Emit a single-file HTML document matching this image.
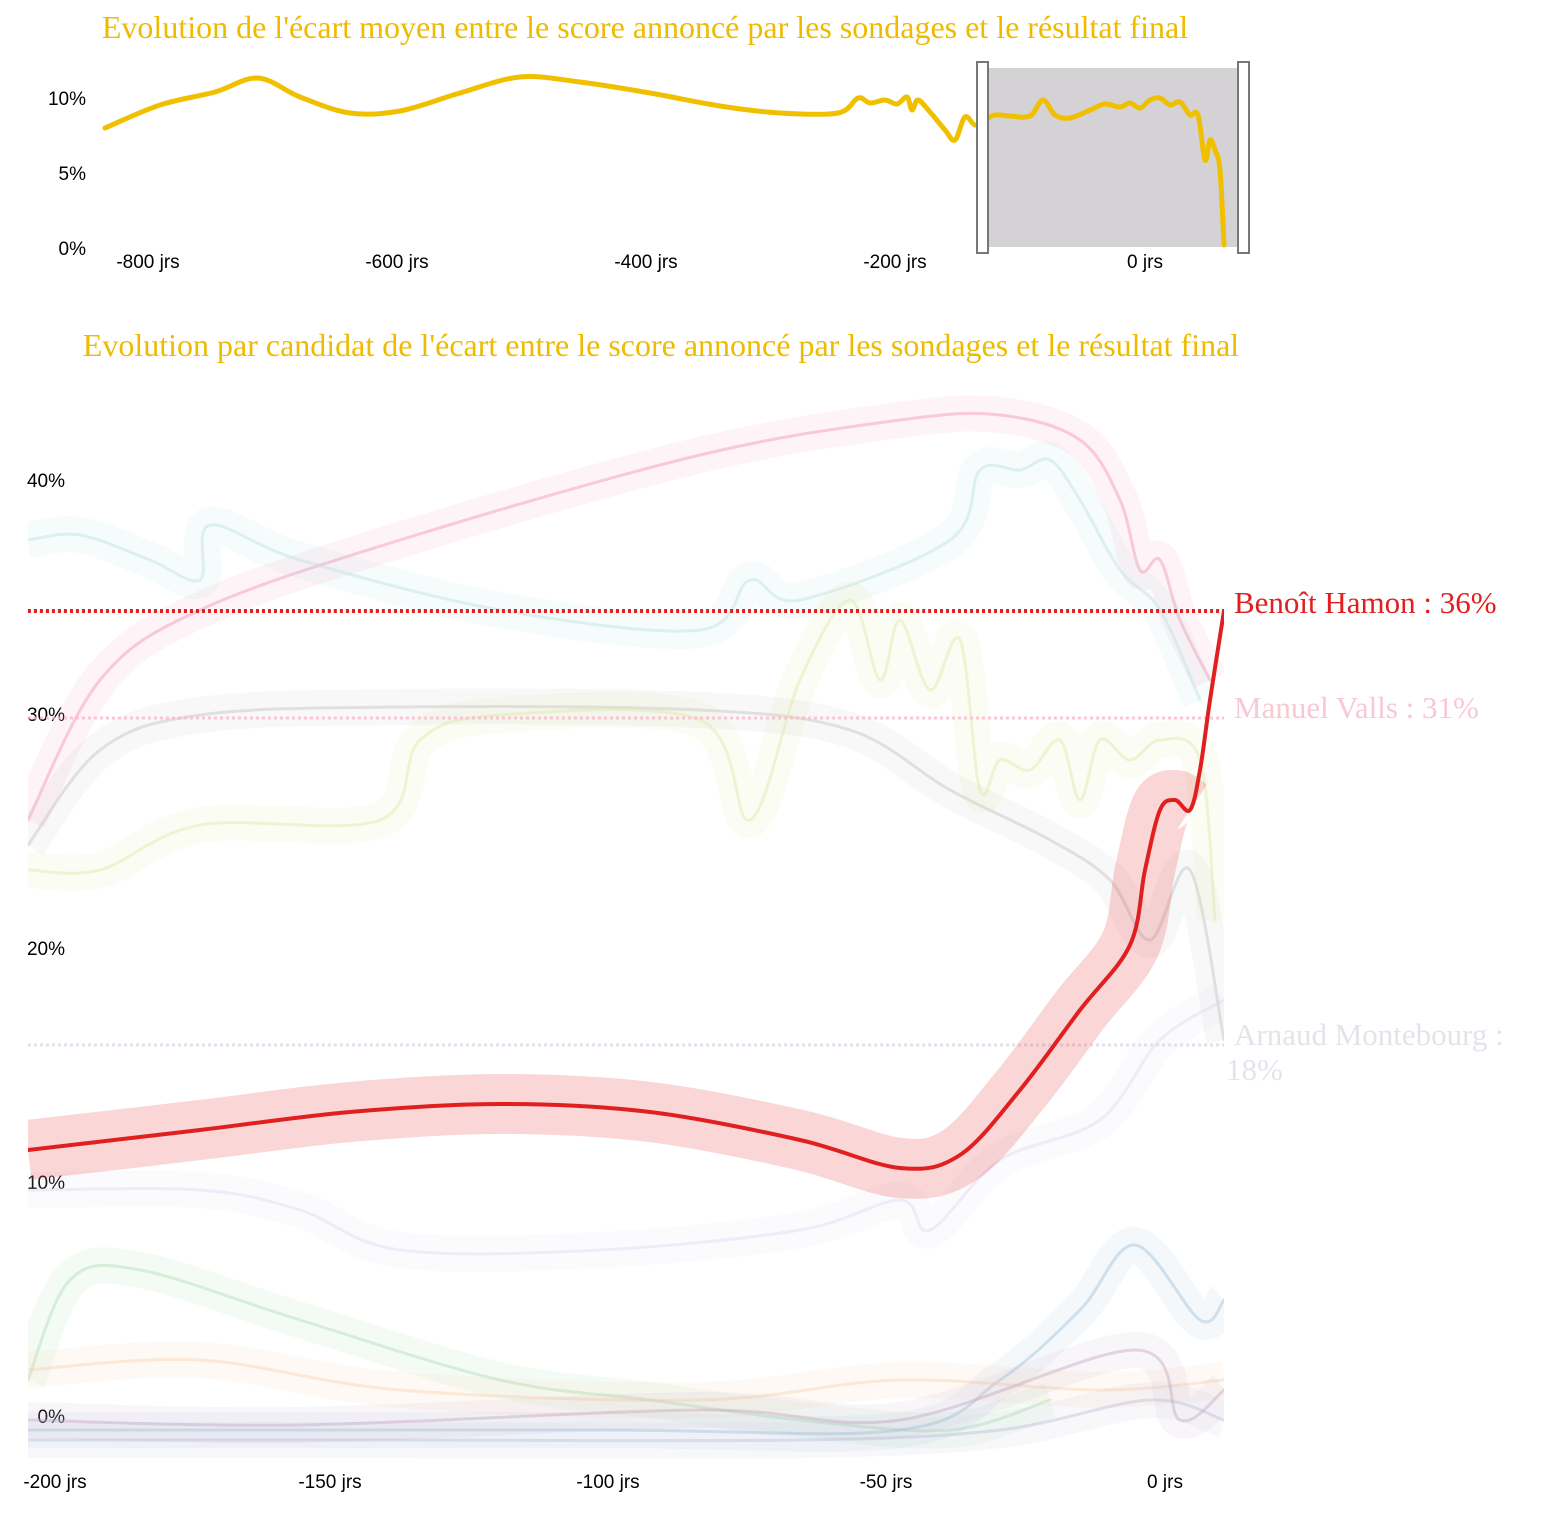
<!DOCTYPE html>
<html><head><meta charset="utf-8"><style>
html,body{margin:0;padding:0;background:#fff;width:1544px;height:1516px;overflow:hidden}
svg{display:block}
.t{font-family:"Liberation Serif",serif;font-size:32px;fill:#eebb00}
.a{font-family:"Liberation Sans",sans-serif;font-size:19px;fill:#000}
</style></head><body>
<svg id="s" width="1544" height="1516" viewBox="0 0 1544 1516">
<defs><clipPath id="c"><rect x="28" y="380" width="1196" height="1080"/></clipPath></defs>
<text class="t" x="645" y="38" text-anchor="middle">Evolution de l'écart moyen entre le score annoncé par les sondages et le résultat final</text>
<text class="a" x="86" y="105" text-anchor="end">10%</text>
<text class="a" x="86" y="180" text-anchor="end">5%</text>
<text class="a" x="86" y="255" text-anchor="end">0%</text>
<text class="a" x="148" y="268" text-anchor="middle">-800 jrs</text>
<text class="a" x="397" y="268" text-anchor="middle">-600 jrs</text>
<text class="a" x="646" y="268" text-anchor="middle">-400 jrs</text>
<text class="a" x="895" y="268" text-anchor="middle">-200 jrs</text>
<text class="a" x="1145" y="268" text-anchor="middle">0 jrs</text>
<rect x="983" y="68" width="257" height="179" fill="#d4d2d4"/>
<g id="top"></g>
<rect x="977" y="62" width="11" height="191" fill="#fff" stroke="#777" stroke-width="2"/>
<rect x="1238" y="62" width="11" height="191" fill="#fff" stroke="#777" stroke-width="2"/>

<text class="t" x="661" y="356" text-anchor="middle">Evolution par candidat de l'écart entre le score annoncé par les sondages et le résultat final</text>
<text class="a" x="65" y="487" text-anchor="end">40%</text>
<text class="a" x="65" y="721" text-anchor="end">30%</text>
<text class="a" x="65" y="955" text-anchor="end">20%</text>
<text class="a" x="65" y="1189" text-anchor="end">10%</text>
<text class="a" x="65" y="1423" text-anchor="end">0%</text>
<text class="a" x="55" y="1488" text-anchor="middle">-200 jrs</text>
<text class="a" x="330" y="1488" text-anchor="middle">-150 jrs</text>
<text class="a" x="608" y="1488" text-anchor="middle">-100 jrs</text>
<text class="a" x="886" y="1488" text-anchor="middle">-50 jrs</text>
<text class="a" x="1165" y="1488" text-anchor="middle">0 jrs</text>
<g id="bot" clip-path="url(#c)"></g>
<text class="t" x="1234" y="613" style="fill:#e02020;font-size:31px">Benoît Hamon : 36%</text>
<text class="t" x="1234" y="718" style="fill:#f8c8d4;font-size:31px">Manuel Valls : 31%</text>
<text class="t" x="1234" y="1045" style="fill:#e6e2ec;font-size:31px">Arnaud Montebourg :</text>
<text class="t" x="1226" y="1080" style="fill:#e6e2ec;font-size:31px">18%</text>
</svg>
<script>
function path(p){var d="M"+p[0][0]+","+p[0][1];for(var i=0;i<p.length-1;i++){var p0=p[i-1]||p[i],p1=p[i],p2=p[i+1],p3=p[i+2]||p2;
d+="C"+(p1[0]+(p2[0]-p0[0])/6)+","+(p1[1]+(p2[1]-p0[1])/6)+" "+(p2[0]-(p3[0]-p1[0])/6)+","+(p2[1]-(p3[1]-p1[1])/6)+" "+p2[0]+","+p2[1];}return d;}
var NS="http://www.w3.org/2000/svg";
function add(g,pts,col,w,op,extra,cap){var e=document.createElementNS(NS,"path");e.setAttribute("d",path(pts));e.setAttribute("fill","none");e.setAttribute("stroke",col);e.setAttribute("stroke-width",w);e.setAttribute("stroke-opacity",op);e.setAttribute("stroke-linejoin","round");e.setAttribute("stroke-linecap",cap||"round");if(extra)e.setAttribute("stroke-dasharray",extra);document.getElementById(g).appendChild(e);}
function line(g,x1,x2,y,col,w,op){add(g,[[x1,y],[x2,y]],col,w,op,"3 3","butt");}
add("top",[[105,128],[160,105],[215,92],[258,78],[300,97],[350,113],[400,111],[460,93],[520,77],[580,82],[650,93],[720,106],[780,113],[838,113],[858,98],[870,103],[885,100],[897,104],[907,97],[912,110],[918,100],[930,112],[945,130],[955,140],[965,117],[975,125],[985,120],[995,115],[1010,116],[1030,116],[1043,100],[1055,115],[1070,118],[1090,110],[1105,104],[1120,107],[1130,103],[1140,108],[1150,100],[1160,98],[1170,105],[1180,102],[1190,115],[1198,115],[1205,160],[1210,140],[1215,150],[1220,170],[1224,245]],"#f0c000",5,1);
var valls=[[28,820],[100,680],[200,610],[400,540],[700,455],[900,420],[1000,415],[1080,440],[1120,500],[1140,570],[1160,560],[1180,620],[1210,680]];
var mont=[[28,845],[100,750],[200,715],[400,707],[700,710],[850,730],[950,790],[1050,840],[1110,880],[1150,940],[1190,870],[1224,1040]];
var lb=[[28,540],[80,535],[150,560],[200,580],[210,525],[300,560],[500,610],[700,630],[750,580],[800,600],[950,540],[980,470],[1020,470],[1050,460],[1080,500],[1120,570],[1160,610],[1200,700]];
var yg=[[28,870],[100,870],[200,825],[380,820],[420,740],[500,715],[700,720],[750,820],[800,680],[850,600],[880,680],[900,620],[930,690],[960,640],[980,790],[1000,760],[1030,770],[1060,740],[1080,800],[1100,740],[1130,760],[1160,740],[1200,760],[1215,920]];
var lav=[[28,1190],[200,1190],[300,1210],[400,1250],[600,1250],[800,1230],[900,1200],[930,1230],[1000,1160],[1100,1120],[1160,1040],[1224,1000]];
var gr=[[28,1380],[70,1280],[140,1270],[300,1320],[500,1380],[650,1400],[800,1420],[950,1430],[1050,1400]];
var bg=[[28,1430],[600,1430],[900,1430],[1000,1380],[1080,1310],[1135,1245],[1200,1320],[1224,1300]];
var or=[[28,1370],[200,1360],[400,1390],[700,1400],[900,1380],[1100,1390],[1224,1380]];
var low1=[[28,1420],[300,1425],[700,1410],[900,1420],[1135,1350],[1180,1420],[1224,1390]];
var low2=[[28,1440],[400,1440],[800,1440],[1000,1430],[1150,1400],[1224,1420]];
[[valls,"#f4a0b8",0.13,0.5],[mont,"#c8c8c8",0.13,0.5],[lb,"#b8e0e0",0.12,0.4],[yg,"#dde8a0",0.12,0.4],[lav,"#dcd8f0",0.12,0.4],[gr,"#a8dcb0",0.12,0.4],[bg,"#a8c8e0",0.12,0.5],[or,"#f8d0a8",0.12,0.4],[low1,"#c8a8c0",0.1,0.45],[low2,"#b8b8d8",0.1,0.4]].forEach(function(s){add("bot",s[0],s[1],36,s[2],null,"butt");add("bot",s[0],s[1],3,s[3]);});
line("bot",28,1224,718,"#f8b8cc",3,0.8);
line("bot",28,1224,1045,"#e0dcec",3,0.9);
var ham=[[28,1150],[200,1130],[350,1112],[500,1104],[650,1112],[800,1140],[900,1168],[960,1155],[1020,1090],[1080,1010],[1130,945],[1145,870],[1160,810],[1175,800],[1190,810],[1200,770],[1210,700],[1224,611]];
add("bot",ham.slice(0,15),"#e83030",60,0.2,null,"butt");
line("bot",28,1224,611,"#e02020",4,1);
add("bot",ham,"#e02020",4,1);
</script>
</body></html>
